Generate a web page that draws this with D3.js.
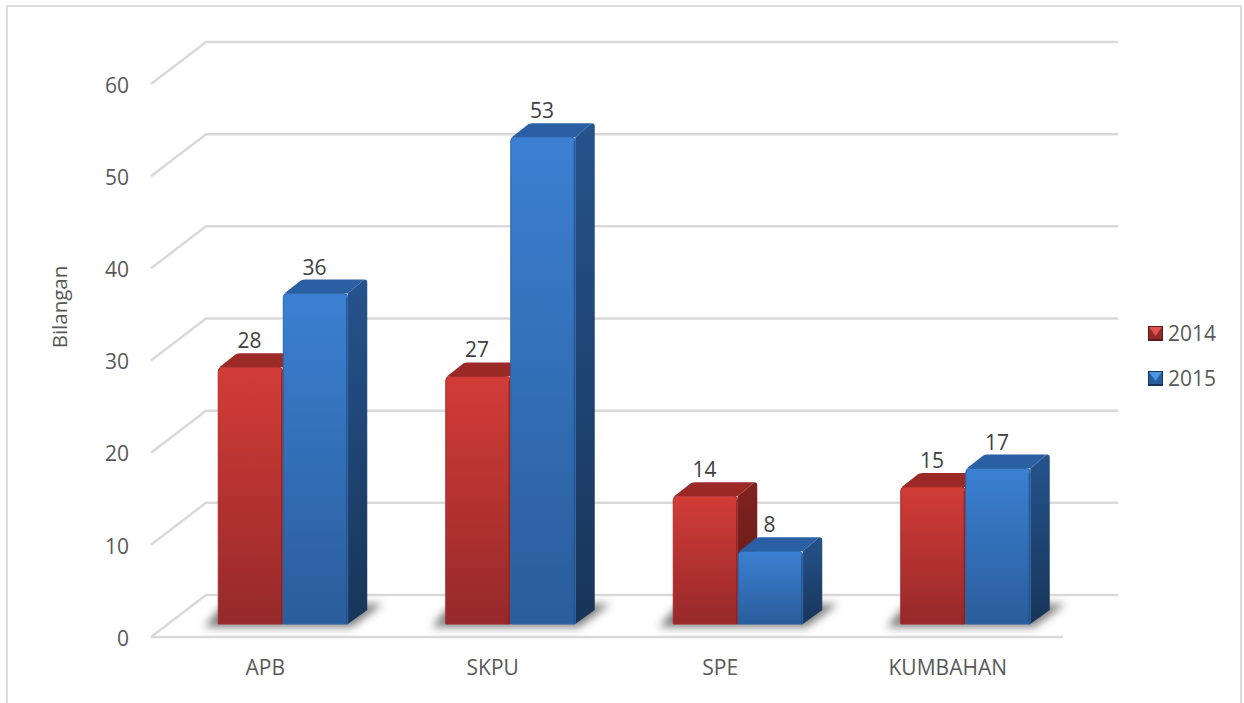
<!DOCTYPE html>
<html lang="en">
<head>
  <meta charset="UTF-8">
  <title>Bilangan 2014 - 2015</title>
  <script src="https://d3js.org/d3.v7.min.js"></script>
  <style>
    html, body { margin: 0; padding: 0; background: #fff; }
    svg { display: block; }
    text { font-family: "Open Sans", sans-serif; }
    .axis text { fill: #595959; font-size: 21px; }
    .val { fill: #404040; font-size: 21px; text-anchor: middle; }
    .grid { stroke: #d9d9d9; stroke-width: 2.5px; fill: none; }
  </style>
</head>
<body>
  <svg width="1244" height="703"></svg>

  <script>
    var categories = ["APB", "SKPU", "SPE", "KUMBAHAN"];
    var seriesNames = ["2014", "2015"];
    var values2014 = [28, 27, 14, 15];
    var values2015 = [36, 53, 8, 17];
    var yTicks = [0, 10, 20, 30, 40, 50, 60];

    var colors = {
      "2014": { top: "#d23c37", bottom: "#96292a", cap: "#9b2a27", sideTop: "#80221f", sideBottom: "#5c1a1b", edge: "#a52c2b", shade: "#7c2020", bright: "#e0524c" },
      "2015": { top: "#3b80d2", bottom: "#2a5d9b", cap: "#2a60a3", sideTop: "#25538c", sideBottom: "#183559", edge: "#2c65aa", shade: "#1f4a80", bright: "#4a94e6" }
    };

    // 3d offsets of the floor and of the bars
    var floorDx = 55, floorDy = -42, floorRight = 1063;
    var barBase = 624, depthX = 19.5, depthY = -14, barW = 64.5, round = 4;

    var svg = d3.select("svg");
    var defs = svg.append("defs");

    var y = d3.scaleLinear().domain([0, 60]).range([637, 84]);
    var barY = d3.scaleLinear().domain([0, 60]).range([625, 72.7]);
    var x = d3.scaleBand().domain(categories).range([151.5, 1061.5]);
    var xSeries = d3.scaleBand().domain(seriesNames).range([0, barW * 2 + 1]);

    seriesNames.forEach(function(s) {
      var c = colors[s];
      var g = defs.append("linearGradient").attr("id", "front" + s)
          .attr("x1", 0).attr("y1", 0).attr("x2", 0).attr("y2", 1);
      g.append("stop").attr("offset", 0).attr("stop-color", c.top);
      g.append("stop").attr("offset", 1).attr("stop-color", c.bottom);
      var g2 = defs.append("linearGradient").attr("id", "side" + s)
          .attr("x1", 0).attr("y1", 0).attr("x2", 0).attr("y2", 1);
      g2.append("stop").attr("offset", 0).attr("stop-color", c.sideTop);
      g2.append("stop").attr("offset", 1).attr("stop-color", c.sideBottom);
    });

    defs.append("filter").attr("id", "blur")
        .attr("x", "-20%").attr("y", "-50%").attr("width", "140%").attr("height", "200%")
      .append("feGaussianBlur").attr("stdDeviation", 4.5);

    // outer frame
    svg.append("path")
        .attr("d", "M7,703V6H1241V703")
        .attr("fill", "none").attr("stroke", "#dcdcdc").attr("stroke-width", 2);

    // gridlines on the back wall and left side wall
    yTicks.forEach(function(t) {
      var x0 = x.range()[0] - 0.5;
      svg.append("path").attr("class", "grid")
          .attr("d", "M" + x0 + "," + y(t) + "L" + (x0 + floorDx) + "," + (y(t) + floorDy) +
                     "L" + (floorRight + floorDx) + "," + (y(t) + floorDy));
    });
    // front edge of the floor
    svg.append("line").attr("class", "grid")
        .attr("x1", x.range()[0] - 0.5).attr("x2", floorRight)
        .attr("y1", y(0)).attr("y2", y(0));

    var barLeft = function(cat, s) {
      return x(cat) + x.bandwidth() / 2 - 47 + xSeries(s);
    };

    // soft shadows on the floor
    categories.forEach(function(cat) {
      var l = barLeft(cat, seriesNames[0]), r = l + barW * 2;
      svg.append("path")
          .attr("d", "M" + (l - 14) + "," + (barBase + 3) + "L" + (l + 6) + "," + (barBase - 20) +
                     "L" + (r + depthX + 16) + "," + (barBase - 20) + "L" + (r + 4) + "," + (barBase + 3) + "Z")
          .attr("fill", "#444").attr("opacity", 0.7).attr("filter", "url(#blur)");
    });

    // bars
    var rows = [];
    seriesNames.forEach(function(s, i) {
      var vals = i === 0 ? values2014 : values2015;
      categories.forEach(function(cat, j) { rows.push({ cat: cat, s: s, v: vals[j] }); });
    });

    var bar = svg.selectAll(".bar").data(rows).enter().append("g").attr("class", "bar");

    bar.append("path") // side
        .attr("d", function(d) {
          var r = barLeft(d.cat, d.s) + barW, t = barY(d.v);
          return "M" + r + "," + t + "L" + (r + depthX - 3) + "," + (t + depthY) +
                 "Q" + (r + depthX) + "," + (t + depthY) + " " + (r + depthX) + "," + (t + depthY + 3) +
                 "L" + (r + depthX) + "," + (barBase + depthY) + "L" + r + "," + barBase + "Z";
        })
        .attr("fill", function(d) { return "url(#side" + d.s + ")"; });

    bar.append("path") // cap
        .attr("d", function(d) {
          var l = barLeft(d.cat, d.s), t = barY(d.v);
          return "M" + (l + 1) + "," + t + "L" + (l + depthX - 2) + "," + (t + depthY + 1) +
                 "Q" + (l + depthX) + "," + (t + depthY) + " " + (l + depthX + 3) + "," + (t + depthY) +
                 "L" + (l + barW + depthX - 3) + "," + (t + depthY) +
                 "L" + (l + barW) + "," + t + "Z";
        })
        .attr("fill", function(d) { return colors[d.s].cap; });

    bar.append("path") // front
        .attr("d", function(d) {
          var l = barLeft(d.cat, d.s), t = barY(d.v);
          return "M" + l + "," + barBase + "V" + (t + round) +
                 "Q" + l + "," + t + " " + (l + round) + "," + t +
                 "H" + (l + barW - round) +
                 "Q" + (l + barW) + "," + t + " " + (l + barW) + "," + (t + round) +
                 "V" + barBase + "Z";
        })
        .attr("fill", function(d) { return "url(#front" + d.s + ")"; })
        .attr("stroke", function(d) { return colors[d.s].edge; })
        .attr("stroke-width", 1);

    bar.append("line") // darker bevel on the right of the front
        .attr("x1", function(d) { return barLeft(d.cat, d.s) + barW - 1; })
        .attr("x2", function(d) { return barLeft(d.cat, d.s) + barW - 1; })
        .attr("y1", function(d) { return barY(d.v) + round; })
        .attr("y2", barBase)
        .attr("stroke", function(d) { return colors[d.s].shade; })
        .attr("stroke-opacity", 0.6)
        .attr("stroke-width", 1.5);

    bar.append("text").attr("class", "val")
        .attr("x", function(d) { return barLeft(d.cat, d.s) + barW / 2 - 1; })
        .attr("y", function(d) { return barY(d.v) + depthY - 5; })
        .text(function(d) { return d.v; });

    // axes
    var yAxis = d3.axisLeft(y).tickValues(yTicks).tickSize(0).tickPadding(0);
    svg.append("g").attr("class", "axis").attr("transform", "translate(129,1.5)").call(yAxis)
        .call(function(g) { g.select(".domain").remove(); });

    var xAxis = d3.axisBottom(x).tickSize(0).tickPadding(0);
    svg.append("g").attr("class", "axis").attr("transform", "translate(0,660)").call(xAxis)
        .call(function(g) { g.select(".domain").remove(); });

    svg.selectAll(".axis text").style("font-family", "'Open Sans', sans-serif");

    svg.append("text")
        .attr("transform", "translate(67,307) rotate(-90)")
        .attr("text-anchor", "middle")
        .attr("fill", "#595959").attr("font-size", 20.5)
        .text("Bilangan");

    // legend
    var legend = svg.selectAll(".leg").data(seriesNames).enter().append("g")
        .attr("class", "leg")
        .attr("transform", function(d, i) { return "translate(1148," + (326 + i * 45) + ")"; });

    legend.append("rect").attr("width", 15).attr("height", 15)
        .attr("fill", function(d) { return colors[d].sideBottom; });
    legend.append("rect").attr("x", 1).attr("y", 1).attr("width", 13).attr("height", 12)
        .attr("fill", function(d) { return colors[d].bottom; });
    legend.append("path").attr("d", "M1,1H14L7.5,10Z")
        .attr("fill", function(d) { return colors[d].bright; });
    legend.append("text").attr("x", 20).attr("y", 15)
        .attr("fill", "#595959").attr("font-size", 21)
        .text(function(d) { return d; });
  </script>
</body>
</html>
